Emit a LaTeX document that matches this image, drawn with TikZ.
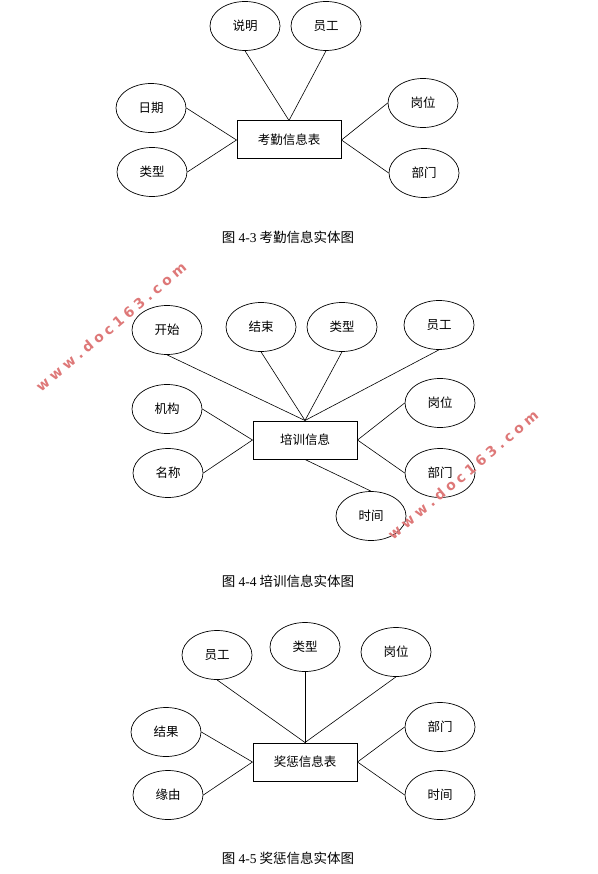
\documentclass[tikz,border=0pt]{standalone}
\usepackage{fontspec}
\setmainfont{Liberation Serif}
\newfontfamily\cjk{Noto Sans CJK SC}
\newfontfamily\wmfont{DejaVu Sans Bold}
\usetikzlibrary{shapes}
\definecolor{wmred}{RGB}{222,120,120}
\newcommand{\wmtext}{w\kern4pt w\kern4pt w\kern4pt .\kern4pt d\kern4pt o\kern4pt c\kern4pt 1\kern4pt 6\kern4pt 3\kern4pt .\kern4pt c\kern4pt o\kern4pt m}

\begin{document}
\begin{tikzpicture}[yscale=-1,x=1pt,y=1pt]
				\tikzstyle{attr} = [ellipse, draw=black, line width=0.7pt, minimum width=70pt, minimum height=49pt, inner sep=0pt, font=\cjk\fontsize{12.5}{14}\selectfont]
				\tikzstyle{entity} = [rectangle, draw=black, line width=1pt, minimum width=104pt, minimum height=38pt, inner sep=0pt, font=\cjk\fontsize{12.5}{14}\selectfont]
				\tikzstyle{caption} = [inner sep=0pt, font=\cjk\fontsize{13.5}{15}\selectfont]
				\tikzstyle{link} = [-, line width=0.6pt]
				\tikzstyle{wmark} = [inner sep=0pt, rotate=40, text=wmred, font=\wmfont\fontsize{14}{14}\selectfont]

				\useasboundingbox (0,0) rectangle (597,874);

				% 4-3
				\node[entity] (TableOne) at (289,140) {考勤信息表};
				\node[attr] (NoteOne) at 	(245,26) 	{说明};
				\node[attr] (StaffOne) at 	(326,26) 	{员工};
				\node[attr] (DateOne) at 	(151,108) 	{日期};
				\node[attr] (TypeOne) at 	(152,172) 	{类型};
				\node[attr] (PostOne) at 	(423,103) 	{岗位};
				\node[attr] (DeptOne) at 	(424,173) 	{部门};
				\draw[link] (NoteOne.south) -- (TableOne.north);
				\draw[link] (StaffOne.south) -- (TableOne.north);
				\draw[link] (DateOne.east) -- (TableOne.west);
				\draw[link] (TypeOne.east) -- (TableOne.west);
				\draw[link] (PostOne.west) -- (TableOne.east);
				\draw[link] (DeptOne.west) -- (TableOne.east);
				\node[caption] (CapOne) at (288,237) {图 {\rmfamily 4-3} 考勤信息实体图};

				% 4-4
				\node[entity] (TrainTwo) at (305,440) {培训信息};
				\node[attr] (StartTwo) at 	(167,330) 	{开始};
				\node[attr] (EndTwo) at 	(261,327) 	{结束};
				\node[attr] (TypeTwo) at 	(342,327) 	{类型};
				\node[attr] (StaffTwo) at 	(439,325) 	{员工};
				\node[attr] (OrgTwo) at 	(167,409) 	{机构};
				\node[attr] (NameTwo) at 	(168,473) 	{名称};
				\node[attr] (PostTwo) at 	(440,403) 	{岗位};
				\node[attr] (DeptTwo) at 	(440,473) 	{部门};
				\node[attr] (TimeTwo) at 	(371,516) 	{时间};
				\draw[link] (StartTwo.south) -- (TrainTwo.north);
				\draw[link] (EndTwo.south) -- (TrainTwo.north);
				\draw[link] (TypeTwo.south) -- (TrainTwo.north);
				\draw[link] (StaffTwo.south) -- (TrainTwo.north);
				\draw[link] (OrgTwo.east) -- (TrainTwo.west);
				\draw[link] (NameTwo.east) -- (TrainTwo.west);
				\draw[link] (PostTwo.west) -- (TrainTwo.east);
				\draw[link] (DeptTwo.west) -- (TrainTwo.east);
				\draw[link] (TrainTwo.south) -- (TimeTwo.north);
				\node[caption] (CapTwo) at (288,581) {图 {\rmfamily 4-4} 培训信息实体图};

				% 4-5
				\node[entity] (PrizeThree) at (305,762) {奖惩信息表};
				\node[attr] (StaffThree) at 	(217,655) 	{员工};
				\node[attr] (TypeThree) at 		(305,647) 	{类型};
				\node[attr] (PostThree) at 		(396,652) 	{岗位};
				\node[attr] (ResultThree) at 	(166,732) 	{结果};
				\node[attr] (ReasonThree) at 	(168,795) 	{缘由};
				\node[attr] (DeptThree) at 		(440,727) 	{部门};
				\node[attr] (TimeThree) at 		(440,795) 	{时间};
				\draw[link] (StaffThree.south) -- (PrizeThree.north);
				\draw[link] (TypeThree.south) -- (PrizeThree.north);
				\draw[link] (PostThree.south) -- (PrizeThree.north);
				\draw[link] (ResultThree.east) -- (PrizeThree.west);
				\draw[link] (ReasonThree.east) -- (PrizeThree.west);
				\draw[link] (DeptThree.west) -- (PrizeThree.east);
				\draw[link] (TimeThree.west) -- (PrizeThree.east);
				\node[caption] (CapThree) at (288,858) {图 {\rmfamily 4-5} 奖惩信息实体图};

				% watermarks
				\node[wmark] (WmOne) at (111,327) {\wmtext};
				\node[wmark] (WmTwo) at (463,475) {\wmtext};
\end{tikzpicture}
\end{document}
